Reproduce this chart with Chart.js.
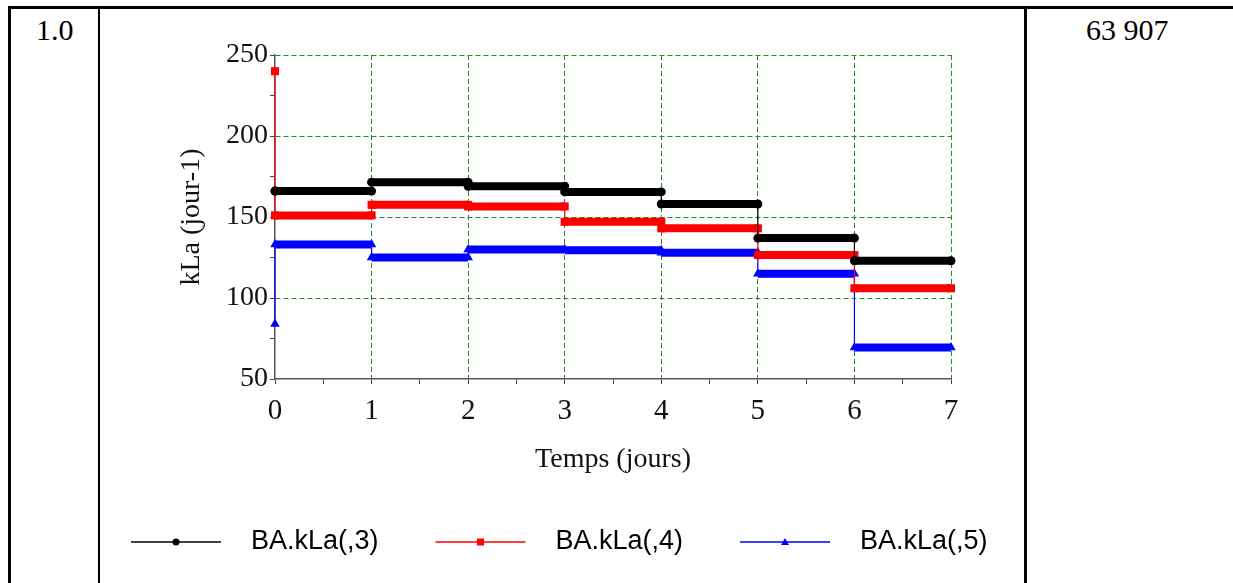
<!DOCTYPE html>
<html>
<head>
<meta charset="utf-8">
<script src="https://cdn.jsdelivr.net/npm/chart.js@4.4.1/dist/chart.umd.min.js"></script>
<style>
	body { margin: 0; background: #fff; }
	#page { position: relative; width: 1233px; height: 583px; overflow: hidden; }
	.trait { position: absolute; background: #000; }
	.cellule { position: absolute; font-family: "Liberation Serif", "Times New Roman", serif; font-size: 30px; line-height: 1; color: #000; }
	#graphe { position: absolute; left: 100px; top: 8px; }
</style>
</head>
<body>
<div id="page">
	<div class="trait" style="left:8px; top:6px; width:1225px; height:2.5px;"></div>
	<div class="trait" style="left:8px; top:6px; width:2.5px; height:577px;"></div>
	<div class="trait" style="left:97.5px; top:6px; width:2.5px; height:577px;"></div>
	<div class="trait" style="left:1024px; top:6px; width:2.5px; height:577px;"></div>
	<div class="cellule" style="left:36px; top:15px;">1.0</div>
	<div class="cellule" style="left:1086px; top:15px;">63 907</div>
	<canvas id="graphe" width="924" height="575"></canvas>
</div>
<script>
// temps en jours (bornes des paliers)
const jours = [0, 1, 2, 3, 4, 5, 6, 7];
// kLa par jour (jour-1), une valeur par palier
const kla3 = [166, 171.5, 169, 165.5, 158, 137, 123];
const kla4 = [151, 157.5, 156.5, 147, 143, 126.5, 106];
const kla5 = [133, 125, 130, 129.5, 128, 115, 69.5];
// valeur initiale a t = 0
const depart = [166, 240, 84];
const noms = ["BA.kLa(,3)", "BA.kLa(,4)", "BA.kLa(,5)"];
const couleurs = ["#000000", "#ff0000", "#0000ff"];
const formes = ["circle", "rect", "triangle"];
const taillesPoint = [4.5, 5.7, 5.5];

/**
 * construit les points d'une courbe en paliers
 */
function paliers(valeurs, v0) {
	const pts = [{ x: jours[0], y: v0 }];
	valeurs.forEach((v, i) => {
		pts.push({ x: jours[i], y: v });
		pts.push({ x: jours[i + 1], y: v });
	});
	return pts;
}

const series = [kla3, kla4, kla5];

const datasets = series.map((valeurs, i) => ({
	label: noms[i],
	data: paliers(valeurs, depart[i]),
	borderColor: couleurs[i],
	backgroundColor: couleurs[i],
	borderWidth: 1.2,
	borderCapStyle: "butt",
	pointStyle: formes[i],
	pointRadius: taillesPoint[i],
	pointBorderWidth: 0,
	pointBackgroundColor: couleurs[i],
	tension: 0,
	clip: false,
	segment: {
		// paliers horizontaux epais, sauts verticaux fins
		borderWidth: (c) => (c.p0.parsed.y === c.p1.parsed.y ? 8 : 1.2),
	},
}));

// legende dessinee a la main (trait + marqueur + texte)
const legendePlugin = {
	id: "legende",
	afterDraw(chart) {
		const ctx = chart.ctx;
		const y = 534;
		noms.forEach((nom, i) => {
			const x0 = 31 + i * 304.5;
			ctx.save();
			ctx.strokeStyle = couleurs[i];
			ctx.fillStyle = couleurs[i];
			ctx.lineWidth = 1.5;
			ctx.beginPath();
			ctx.moveTo(x0, y);
			ctx.lineTo(x0 + 90, y);
			ctx.stroke();
			const xm = x0 + 45;
			ctx.beginPath();
			if (formes[i] === "circle") {
				ctx.arc(xm, y, 3.5, 0, Math.PI * 2);
			} else if (formes[i] === "rect") {
				ctx.rect(xm - 3.5, y - 3.5, 7, 7);
			} else {
				ctx.moveTo(xm, y - 4);
				ctx.lineTo(xm + 4, y + 3);
				ctx.lineTo(xm - 4, y + 3);
				ctx.closePath();
			}
			ctx.fill();
			ctx.fillStyle = "#000";
			ctx.font = '27px "Liberation Sans", Arial, sans-serif';
			ctx.textAlign = "left";
			ctx.textBaseline = "middle";
			ctx.fillText(nom, x0 + 120, y);
			ctx.restore();
		});
	},
};

const vert = "#1f8a1f";

Chart.defaults.font.family = '"Liberation Serif", "Times New Roman", serif';
Chart.defaults.color = "#111";

new Chart(document.getElementById("graphe"), {
	type: "line",
	data: { datasets: datasets },
	options: {
		responsive: false,
		animation: false,
		devicePixelRatio: 1,
		layout: { padding: { left: 75, right: 73, top: 47, bottom: 107 } },
		plugins: {
			legend: { display: false },
			tooltip: { enabled: false },
		},
		scales: {
			x: {
				type: "linear",
				min: 0,
				max: 7,
				afterFit: (s) => {
					s.height = 97;
				},
				ticks: {
					stepSize: 0.5,
					autoSkip: false,
					maxRotation: 0,
					padding: 10,
					font: { size: 29 },
					callback: (v) => (Number.isInteger(v) ? v : ""),
				},
				grid: {
					color: (c) =>
						c.tick && Number.isInteger(c.tick.value) && c.tick.value > 0
							? vert
							: "rgba(0,0,0,0)",
					lineWidth: 1,
					tickColor: "#444",
					tickLength: 5,
				},
				border: { color: "#555", width: 1.5, dash: [5, 3] },
				title: {
					display: true,
					text: "Temps (jours)",
					font: { size: 28 },
					color: "#111",
					padding: 0,
				},
			},
			y: {
				min: 50,
				max: 250,
				afterFit: (s) => {
					s.width = 100;
				},
				ticks: {
					stepSize: 25,
					autoSkip: false,
					padding: 2,
					font: { size: 28 },
					callback: (v) => (v % 50 === 0 ? v : ""),
				},
				grid: {
					color: (c) =>
						c.tick && c.tick.value % 50 === 0 && c.tick.value > 50
							? vert
							: "rgba(0,0,0,0)",
					lineWidth: 1,
					tickColor: "#444",
					tickLength: 5,
				},
				border: { color: "#555", width: 1.5, dash: [5, 3] },
				title: {
					display: true,
					text: "kLa (jour-1)",
					font: { size: 28 },
					color: "#111",
					padding: 0,
				},
			},
		},
	},
	plugins: [legendePlugin],
});
</script>
</body>
</html>
